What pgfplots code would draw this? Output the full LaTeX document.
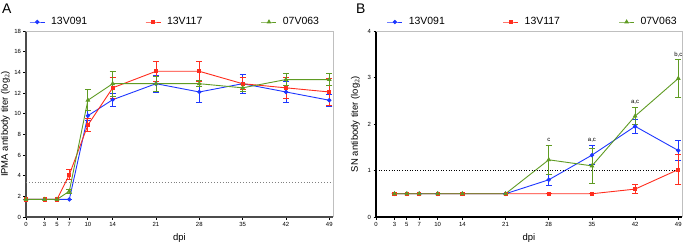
\documentclass[border=0pt]{standalone}
\usepackage{fontspec}
\setmainfont{Liberation Sans}
\usepackage{pgfplots}
\pgfplotsset{compat=1.18}
\usepackage{pgfplotstable}
\definecolor{cblue}{RGB}{30,55,255}
\definecolor{cred}{RGB}{255,45,30}
\definecolor{cgreen}{RGB}{95,155,35}

\pgfplotstableread{
x y e
0 1.7 0
3 1.7 0
5 1.7 0
7 1.7 0
10 9.8 0.5
14 11.35 0.6
21 12.9 0.8
28 12.1 1.0
35 12.9 0.9
42 12.1 1.0
49 11.3 0.6
}\Ablue
\pgfplotstableread{
x y e
0 1.7 0
3 1.7 0
5 1.7 0
7 4.1 0.5
10 8.9 0.6
14 12.5 1.0
21 14.1 1.0
28 14.1 1.0
35 12.9 0.6
42 12.5 1.0
49 12.1 1.3
}\Ared
\pgfplotstableread{
x y e
0 1.7 0
3 1.7 0
5 1.7 0
7 2.5 0.2
10 11.3 1.0
14 12.9 1.2
21 12.9 0.7
28 12.9 0.3
35 12.5 0.3
42 13.3 0.6
49 13.3 0.6
}\Agreen
\pgfplotstableread{
x y e
3 0.5 0
5 0.5 0
7 0.5 0
10 0.5 0
14 0.5 0
21 0.5 0
28 0.8 0.12
35 1.33 0.2
42 1.95 0.15
49 1.43 0.21
}\Bblue
\pgfplotstableread{
x y e
3 0.5 0
5 0.5 0
7 0.5 0
10 0.5 0
14 0.5 0
21 0.5 0
28 0.5 0
35 0.5 0
42 0.6 0.1
49 1.02 0.32
}\Bred
\pgfplotstableread{
x y e
3 0.5 0
5 0.5 0
7 0.5 0
10 0.5 0
14 0.5 0
21 0.5 0
28 1.23 0.32
35 1.1 0.38
42 2.17 0.18
49 2.98 0.4
}\Bgreen

\pgfplotsset{
  panel/.style={
    scale only axis,
    width=306bp, height=186bp,
    xmin=0, xmax=49.6,
    xtick={0,3,5,7,10,14,21,28,35,42,49},
    axis lines=left,
    axis line style={-, line width=1.3bp},
    tick align=outside,
    major tick length=2.5bp,
    tick style={line width=0.8bp, black},
    ticklabel style={font=\fontsize{6}{7}\selectfont},
    /pgf/number format/assume math mode=true,
    xticklabel style={yshift=1bp},
    yticklabel style={xshift=1bp},
    label style={font=\fontsize{9.5}{10}\selectfont},
    xlabel style={at={(axis description cs:0.5,0)}, anchor=north, yshift=-16bp, inner sep=0pt},
    ylabel style={at={(axis description cs:-0.052,0.5)}, anchor=south, inner sep=0pt},
    xlabel={dpi},
    clip=false,
    legend columns=3,
    legend image code/.code={\draw[mark repeat=2, mark phase=2, #1] plot coordinates {(0bp,0bp) (7.5bp,0bp) (15bp,0bp)};},
    legend style={draw=none, fill=none, font=\fontsize{10.5}{11}\selectfont, inner sep=0pt,
      /tikz/every even column/.append style={column sep=0bp},
      /tikz/every odd column/.append style={column sep=4bp}},
    legend cell align=left,
  },
  sb/.style={cblue, line width=0.9bp, mark=*, mark size=1.7bp, mark options={solid},
    error bars/.cd, y dir=both, y explicit,
    error bar style={line width=0.8bp},
    error mark options={rotate=90, mark size=3bp, line width=0.8bp}},
  sr/.style={cred, line width=0.9bp, mark=square*, mark size=1.6bp, mark options={solid},
    error bars/.cd, y dir=both, y explicit,
    error bar style={line width=0.8bp},
    error mark options={rotate=90, mark size=3bp, line width=0.8bp}},
  sg/.style={cgreen, line width=0.9bp, mark=triangle*, mark size=1.9bp, mark options={solid},
    error bars/.cd, y dir=both, y explicit,
    error bar style={line width=0.8bp},
    error mark options={rotate=90, mark size=3bp, line width=0.8bp}},
}
\newcommand{\lt}[1]{\makebox[92bp][l]{#1}}

\begin{document}
\begin{tikzpicture}
\useasboundingbox (0,0) rectangle (685bp,244bp);
\node[anchor=north west, inner sep=0pt, font=\fontsize{14}{14}\selectfont] at (2bp,240bp) {A};
\node[anchor=north west, inner sep=0pt, font=\fontsize{14}{14}\selectfont] at (356bp,240bp) {B};

\begin{axis}[panel,
  at={(26bp,27bp)}, anchor=south west,
  width=307bp,
  ymin=0, ymax=18, ytick={0,2,...,18},
  axis line style={-, line width=1.3bp, black!70},
  ylabel={IPMA antibody titer (log$_2$)},
  legend style={at={(axis description cs:0.01,1)}, anchor=west, yshift=9bp},
]
\addplot[sb] table[x=x, y=y, y error=e] {\Ablue};
\addplot[sr] table[x=x, y=y, y error=e] {\Ared};
\addplot[sg] table[x=x, y=y, y error=e] {\Agreen};
\legend{\lt{13V091},\lt{13V117},\lt{07V063}}
\addplot[gray, dotted, line width=0.9bp, forget plot] coordinates {(0,3.3) (49.6,3.3)};
\draw[gray!50, line width=0.6bp] (rel axis cs:0,1) -- (rel axis cs:1,1) -- (rel axis cs:1,0);
\end{axis}

\begin{axis}[panel,
  at={(376bp,27bp)}, anchor=south west,
  ymin=0, ymax=4, ytick={0,1,2,3,4},
  axis line style={-, line width=1.3bp, black},
  ylabel={SN antibody titer (log$_2$)},
  legend style={at={(axis description cs:0.035,1)}, anchor=west, yshift=9bp},
]
\addplot[sb] table[x=x, y=y, y error=e] {\Bblue};
\addplot[sr] table[x=x, y=y, y error=e] {\Bred};
\addplot[sg] table[x=x, y=y, y error=e] {\Bgreen};
\legend{\lt{13V091},\lt{13V117},\lt{07V063}}
\addplot[black, dotted, line width=0.6bp, forget plot] coordinates {(0,1) (49.6,1)};
\draw[gray!50, line width=0.6bp] (rel axis cs:0,1) -- (rel axis cs:1,1) -- (rel axis cs:1,0);
\node[font=\fontsize{6}{7}\selectfont] at (axis cs:28,1.65) {c};
\node[font=\fontsize{6}{7}\selectfont] at (axis cs:35,1.65) {a,c};
\node[font=\fontsize{6}{7}\selectfont] at (axis cs:42,2.47) {a,c};
\node[font=\fontsize{6}{7}\selectfont] at (axis cs:49,3.5) {b,c};
\end{axis}
\end{tikzpicture}
\end{document}
